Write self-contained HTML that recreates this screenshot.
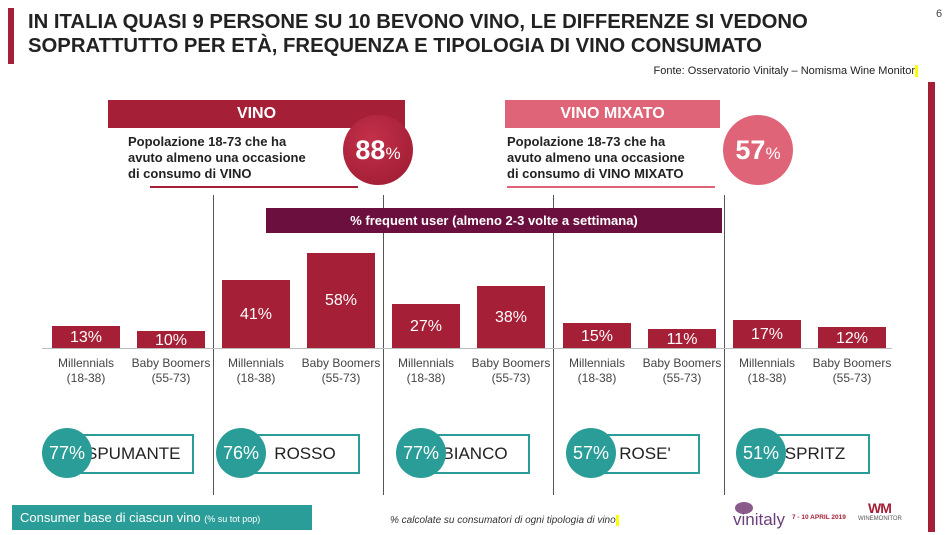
<!DOCTYPE html>
<html><head><meta charset="utf-8"><style>
body{margin:0;width:950px;height:535px;background:#fff;position:relative;overflow:hidden;font-family:"Liberation Sans",sans-serif}
.a{position:absolute}
.t{font-weight:bold;font-size:20.3px;line-height:24px;color:#222}
.bar{position:absolute;background:#a51f36;color:#fff;font-size:16px;text-align:center;width:68px}
.lab{position:absolute;width:90px;text-align:center;font-size:12px;line-height:15px;color:#444;top:356px}
.circ{position:absolute;width:50px;height:50px;border-radius:50%;background:#2a9d98;color:#fff;font-size:18px;line-height:50px;text-align:center;top:428px}
.pill{position:absolute;top:434px;width:106px;height:36px;border:2px solid #2a9d98;font-size:17px;line-height:36px;color:#222;text-align:center}
.vl{position:absolute;width:1px;background:#555;top:195px;height:300px}
</style></head><body>
<div class="a" style="left:8px;top:8px;width:6px;height:56px;background:#a51f36"></div>
<div class="a t" style="left:28px;top:10px">IN ITALIA QUASI 9 PERSONE SU 10 BEVONO VINO, LE DIFFERENZE SI VEDONO<br>SOPRATTUTTO PER ETÀ, FREQUENZA E TIPOLOGIA DI VINO CONSUMATO</div>
<div class="a" style="left:936px;top:8px;font-size:11px;color:#444">6</div>
<div class="a" style="left:928px;top:82px;width:7px;height:450px;background:#a51f36"></div>
<div class="a" style="right:32px;top:65px;font-size:11px;color:#222">Fonte: Osservatorio Vinitaly – Nomisma Wine Monitor<span style="background:#ff0;display:inline-block;width:3px;height:12px;vertical-align:middle"></span></div>

<div class="a" style="left:108px;top:100px;width:297px;height:28px;background:#a51f36;color:#fff;font-weight:bold;font-size:16px;line-height:28px;text-align:center">VINO</div>
<div class="a" style="left:128px;top:134px;font-weight:bold;font-size:13px;line-height:16px;color:#222">Popolazione 18-73 che ha<br>avuto almeno una occasione<br>di consumo di VINO</div>
<div class="a" style="left:150px;top:186px;width:208px;height:2px;background:#a51f36"></div>
<div class="a" style="left:343px;top:115px;width:70px;height:70px;border-radius:50%;background:radial-gradient(circle at 40% 35%,#c4304a,#9a1a30);color:#fff;font-weight:bold;font-size:27px;line-height:70px;text-align:center">88<span style="font-size:17px;font-weight:normal">%</span></div>

<div class="a" style="left:505px;top:100px;width:215px;height:28px;background:#e06477;color:#fff;font-weight:bold;font-size:16px;line-height:28px;text-align:center">VINO MIXATO</div>
<div class="a" style="left:507px;top:134px;font-weight:bold;font-size:13px;line-height:16px;color:#222">Popolazione 18-73 che ha<br>avuto almeno una occasione<br>di consumo di VINO MIXATO</div>
<div class="a" style="left:507px;top:186px;width:208px;height:2px;background:#e06477"></div>
<div class="a" style="left:723px;top:115px;width:70px;height:70px;border-radius:50%;background:#e06477;color:#fff;font-weight:bold;font-size:27px;line-height:70px;text-align:center">57<span style="font-size:17px;font-weight:normal">%</span></div>

<div class="vl" style="left:213px"></div><div class="vl" style="left:383px"></div><div class="vl" style="left:553px"></div><div class="vl" style="left:724px"></div>
<div class="a" style="left:266px;top:208px;width:456px;height:25px;background:#6b0f3f;color:#fff;font-weight:bold;font-size:13px;line-height:25px;text-align:center;z-index:2">% frequent user (almeno 2-3 volte a settimana)</div>
<div class="a" style="left:42px;top:348px;width:850px;height:1px;background:#bbb"></div>

<div class="bar" style="left:52px;top:326px;height:22px;line-height:24px">13%</div>
<div class="bar" style="left:137px;top:331px;height:17px;line-height:20px">10%</div>
<div class="bar" style="left:222px;top:280px;height:68px;line-height:70px">41%</div>
<div class="bar" style="left:307px;top:253px;height:95px;line-height:96px">58%</div>
<div class="bar" style="left:392px;top:304px;height:44px;line-height:46px">27%</div>
<div class="bar" style="left:477px;top:286px;height:62px;line-height:64px">38%</div>
<div class="bar" style="left:563px;top:323px;height:25px;line-height:27px">15%</div>
<div class="bar" style="left:648px;top:329px;height:19px;line-height:21px">11%</div>
<div class="bar" style="left:733px;top:320px;height:28px;line-height:30px">17%</div>
<div class="bar" style="left:818px;top:327px;height:21px;line-height:23px">12%</div>

<div class="lab" style="left:41px">Millennials<br>(18-38)</div><div class="lab" style="left:126px">Baby Boomers<br>(55-73)</div>
<div class="lab" style="left:211px">Millennials<br>(18-38)</div><div class="lab" style="left:296px">Baby Boomers<br>(55-73)</div>
<div class="lab" style="left:381px">Millennials<br>(18-38)</div><div class="lab" style="left:466px">Baby Boomers<br>(55-73)</div>
<div class="lab" style="left:552px">Millennials<br>(18-38)</div><div class="lab" style="left:637px">Baby Boomers<br>(55-73)</div>
<div class="lab" style="left:722px">Millennials<br>(18-38)</div><div class="lab" style="left:807px">Baby Boomers<br>(55-73)</div>

<div class="pill" style="left:80px;padding-left:4px;text-align:left">SPUMANTE</div><div class="circ" style="left:42px">77%</div>
<div class="pill" style="left:250px">ROSSO</div><div class="circ" style="left:216px">76%</div>
<div class="pill" style="left:420px">BIANCO</div><div class="circ" style="left:396px">77%</div>
<div class="pill" style="left:590px">ROSE'</div><div class="circ" style="left:566px">57%</div>
<div class="pill" style="left:760px">SPRITZ</div><div class="circ" style="left:736px">51%</div>

<div class="a" style="left:12px;top:505px;width:300px;height:25px;background:#2a9d98;color:#fff;font-size:13px;line-height:25px;padding-left:8px;box-sizing:border-box">Consumer base di ciascun vino <span style="font-size:9px">(% su tot pop)</span></div>
<div class="a" style="left:390px;top:515px;font-size:10px;font-style:italic;color:#333">% calcolate su consumatori di ogni tipologia di vino<span style="background:#ff0;display:inline-block;width:3px;height:11px;vertical-align:middle"></span></div>

<div class="a" style="left:735px;top:502px;width:18px;height:12px;border-radius:50%;background:#8a5a8a"></div>
<div class="a" style="left:733px;top:510px;font-size:17px;color:#6a3f7a">vinitaly</div>
<div class="a" style="left:792px;top:514px;font-size:6.5px;font-weight:bold;color:#a51f36">7 - 10 APRIL 2019</div>
<div class="a" style="left:868px;top:500px;font-size:14px;font-weight:bold;color:#a51f36;letter-spacing:-1px">WM</div>
<div class="a" style="left:858px;top:516px;font-size:6px;color:#555">WINEMONITOR</div>
</body></html>
